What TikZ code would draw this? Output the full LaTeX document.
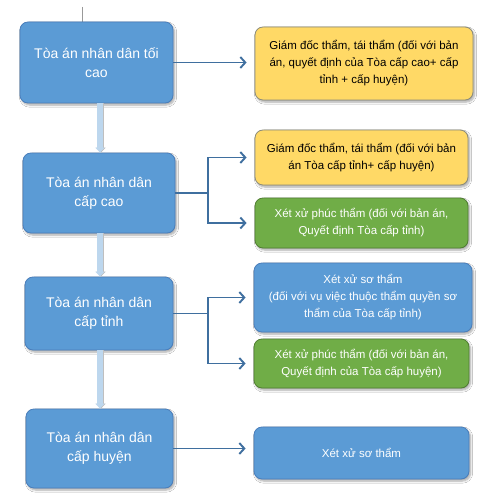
\documentclass[tikz,border=0pt]{standalone}
\usepackage{fontspec}
\setmainfont{Liberation Sans}
\usetikzlibrary{arrows.meta,shadows.blur}
\definecolor{bluefill}{HTML}{5B9BD5}
\definecolor{blueborder}{HTML}{4A7EBB}
\definecolor{yellowfill}{HTML}{FFD966}
\definecolor{yellowborder}{HTML}{8C8C7A}
\definecolor{greenfill}{HTML}{70AD47}
\definecolor{greenborder}{HTML}{507E32}
\definecolor{arrowcol}{HTML}{3F6F9F}
\definecolor{vconncol}{HTML}{BDD7EE}
\tikzset{
  box/.style={rounded corners=8pt, line width=0.8pt, inner sep=2pt, align=center,
    blur shadow={shadow xshift=1.5pt, shadow yshift=-2pt, shadow blur steps=6, shadow opacity=35}},
  leftbox/.style={box, fill=bluefill, draw=blueborder, text=white,
    font=\fontsize{14}{19}\selectfont},
  rbox/.style={box, font=\fontsize{11.5}{17}\selectfont},
  yellowbox/.style={rbox, fill=yellowfill, draw=yellowborder, text=black},
  greenbox/.style={rbox, fill=greenfill, draw=greenborder, text=white},
  bluebox/.style={rbox, fill=bluefill, draw=blueborder, text=white},
  arr/.style={draw=arrowcol, line width=1.9pt, -{Straight Barb[length=5pt,width=11pt,line width=1.9pt]}, shorten >=8pt},
  lin/.style={draw=arrowcol, line width=1.9pt},
  vconn/.style={draw=vconncol, line width=6pt, -{Triangle[length=5pt,width=9pt]},
    preaction={draw=black!25, line width=6pt, transform canvas={xshift=1pt}, -{Triangle[length=5pt,width=9pt]}}}
}
\begin{document}
\begin{tikzpicture}[x=1pt,y=-1pt]
\useasboundingbox[fill=white] (0,0) rectangle (500,500);
\draw[black!40, line width=0.6pt] (82,7) -- (82,22);

\node[leftbox, minimum width=153pt, minimum height=81pt] (L1) at (96.5,62.5) {Tòa án nhân dân tối\\cao};
\node[leftbox, minimum width=152pt, minimum height=80pt] (L2) at (99,193) {Tòa án nhân dân\\cấp cao};
\node[leftbox, minimum width=148pt, minimum height=73pt] (L3) at (99,313.5) {Tòa án nhân dân\\cấp tỉnh};
\node[leftbox, minimum width=147pt, minimum height=79pt] (L4) at (99.5,448.5) {Tòa án nhân dân\\cấp huyện};

\node[yellowbox, minimum width=218pt, minimum height=73pt] (R1) at (364,63.5) {Giám đốc thẩm, tái thẩm (đối với bản\\án, quyết định của Tòa cấp cao+ cấp\\tỉnh + cấp huyện)};
\node[yellowbox, minimum width=213pt, minimum height=55pt] (R2) at (361.5,157.5) {Giám đốc thẩm, tái thẩm (đối với bản\\án Tòa cấp tỉnh+ cấp huyện)};
\node[greenbox, minimum width=213pt, minimum height=50pt] (R3) at (361.5,223) {Xét xử phúc thẩm (đối với bản án,\\Quyết định Tòa cấp tỉnh)};
\node[bluebox, minimum width=218pt, minimum height=69pt] (R4) at (363,297.5) {Xét xử sơ thẩm\\(đối với vụ việc thuộc thẩm quyền sơ\\thẩm của Tòa cấp tỉnh)};
\node[greenbox, minimum width=215pt, minimum height=49pt] (R5) at (361.5,363.5) {Xét xử phúc thẩm (đối với bản án,\\Quyết định của Tòa cấp huyện)};
\node[bluebox, minimum width=215pt, minimum height=52pt] (R6) at (361.5,453) {Xét xử sơ thẩm};

\draw[vconn] (L1.south -| 100,0) -- (L2.north -| 100,0);
\draw[vconn] (L2.south -| 100,0) -- (L3.north -| 100,0);
\draw[vconn] (L3.south -| 100,0) -- (L4.north -| 100,0);

\coordinate (j2) at (208,193);
\coordinate (j3) at (208,313.5);

\draw[arr] (L1.east) -- (L1.east -| R1.west);
\draw[lin] (L2.east) -- (j2);
\draw[arr] (j2) |- (R2.west);
\draw[arr] (j2) |- (R3.west);
\draw[lin] (L3.east) -- (j3);
\draw[arr] (j3) |- (R4.west);
\draw[arr] (j3) |- (R5.west);
\draw[arr] (L4.east) -- (L4.east -| R6.west);
\end{tikzpicture}
\end{document}
